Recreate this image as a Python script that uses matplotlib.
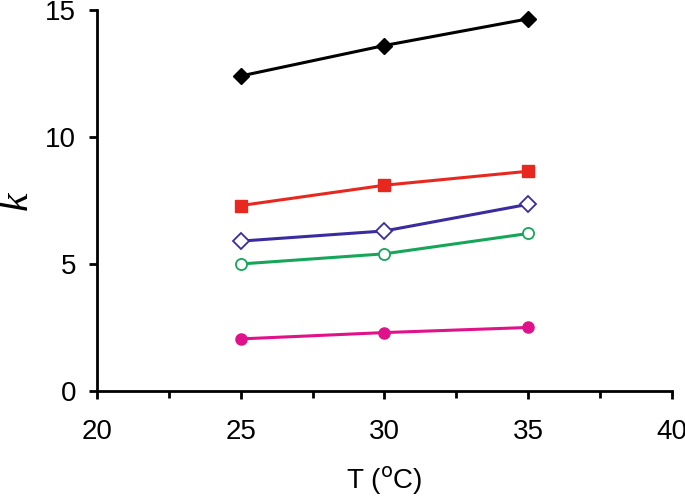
import matplotlib.pyplot as plt
import numpy as np

plt.rcParams['font.family'] = ['Liberation Sans', 'DejaVu Sans']

# Data
T = [25, 30, 35]
k_black = [12.4, 13.6, 14.65]
k_red = [7.3, 8.1, 8.65]
k_blue = [5.9, 6.3, 7.35]
k_green = [5.0, 5.4, 6.2]
k_pink = [2.05, 2.3, 2.5]

fig = plt.figure(figsize=(6.85, 4.97), dpi=100)
ax = fig.add_axes([0.1416, 0.2133, 0.8394, 0.7667])

ax.plot(T, k_black, color='black', lw=2.2, marker='D', ms=8)
ax.plot(T, k_red, color='#e8281e', lw=2.2, marker='s', ms=8)
ax.plot(T, k_blue, color='#3a2ca0', lw=2.2, marker='D', ms=8,
        mfc='white', mew=1.3)
ax.plot(T, k_green, color='#16a65a', lw=2.2, marker='o', ms=8,
        mfc='white', mew=1.3)
ax.plot(T, k_pink, color='#e0128a', lw=2.2, marker='o', ms=8)

ax.set_xlim(20, 40)
ax.set_ylim(0, 15)
ax.set_xticks([20, 25, 30, 35, 40])
ax.set_xticks([22.5, 27.5, 32.5, 37.5], minor=True)
ax.set_yticks([0, 5, 10, 15])

for s in ['top', 'right']:
    ax.spines[s].set_visible(False)
for s in ['left', 'bottom']:
    ax.spines[s].set_linewidth(2)

ax.tick_params(axis='both', which='major', direction='out', length=6,
               width=2, labelsize=20, pad=9)
ax.tick_params(axis='x', which='major', pad=14)
ax.tick_params(axis='x', which='minor', direction='out', length=5, width=2)

ax.set_xlabel(r'T ($^{\mathrm{o}}$C)', fontsize=20, labelpad=14)
ax.set_ylabel('k', fontsize=30, style='italic', family='Liberation Serif',
              labelpad=7)

fig.savefig('out.png', dpi=100)
